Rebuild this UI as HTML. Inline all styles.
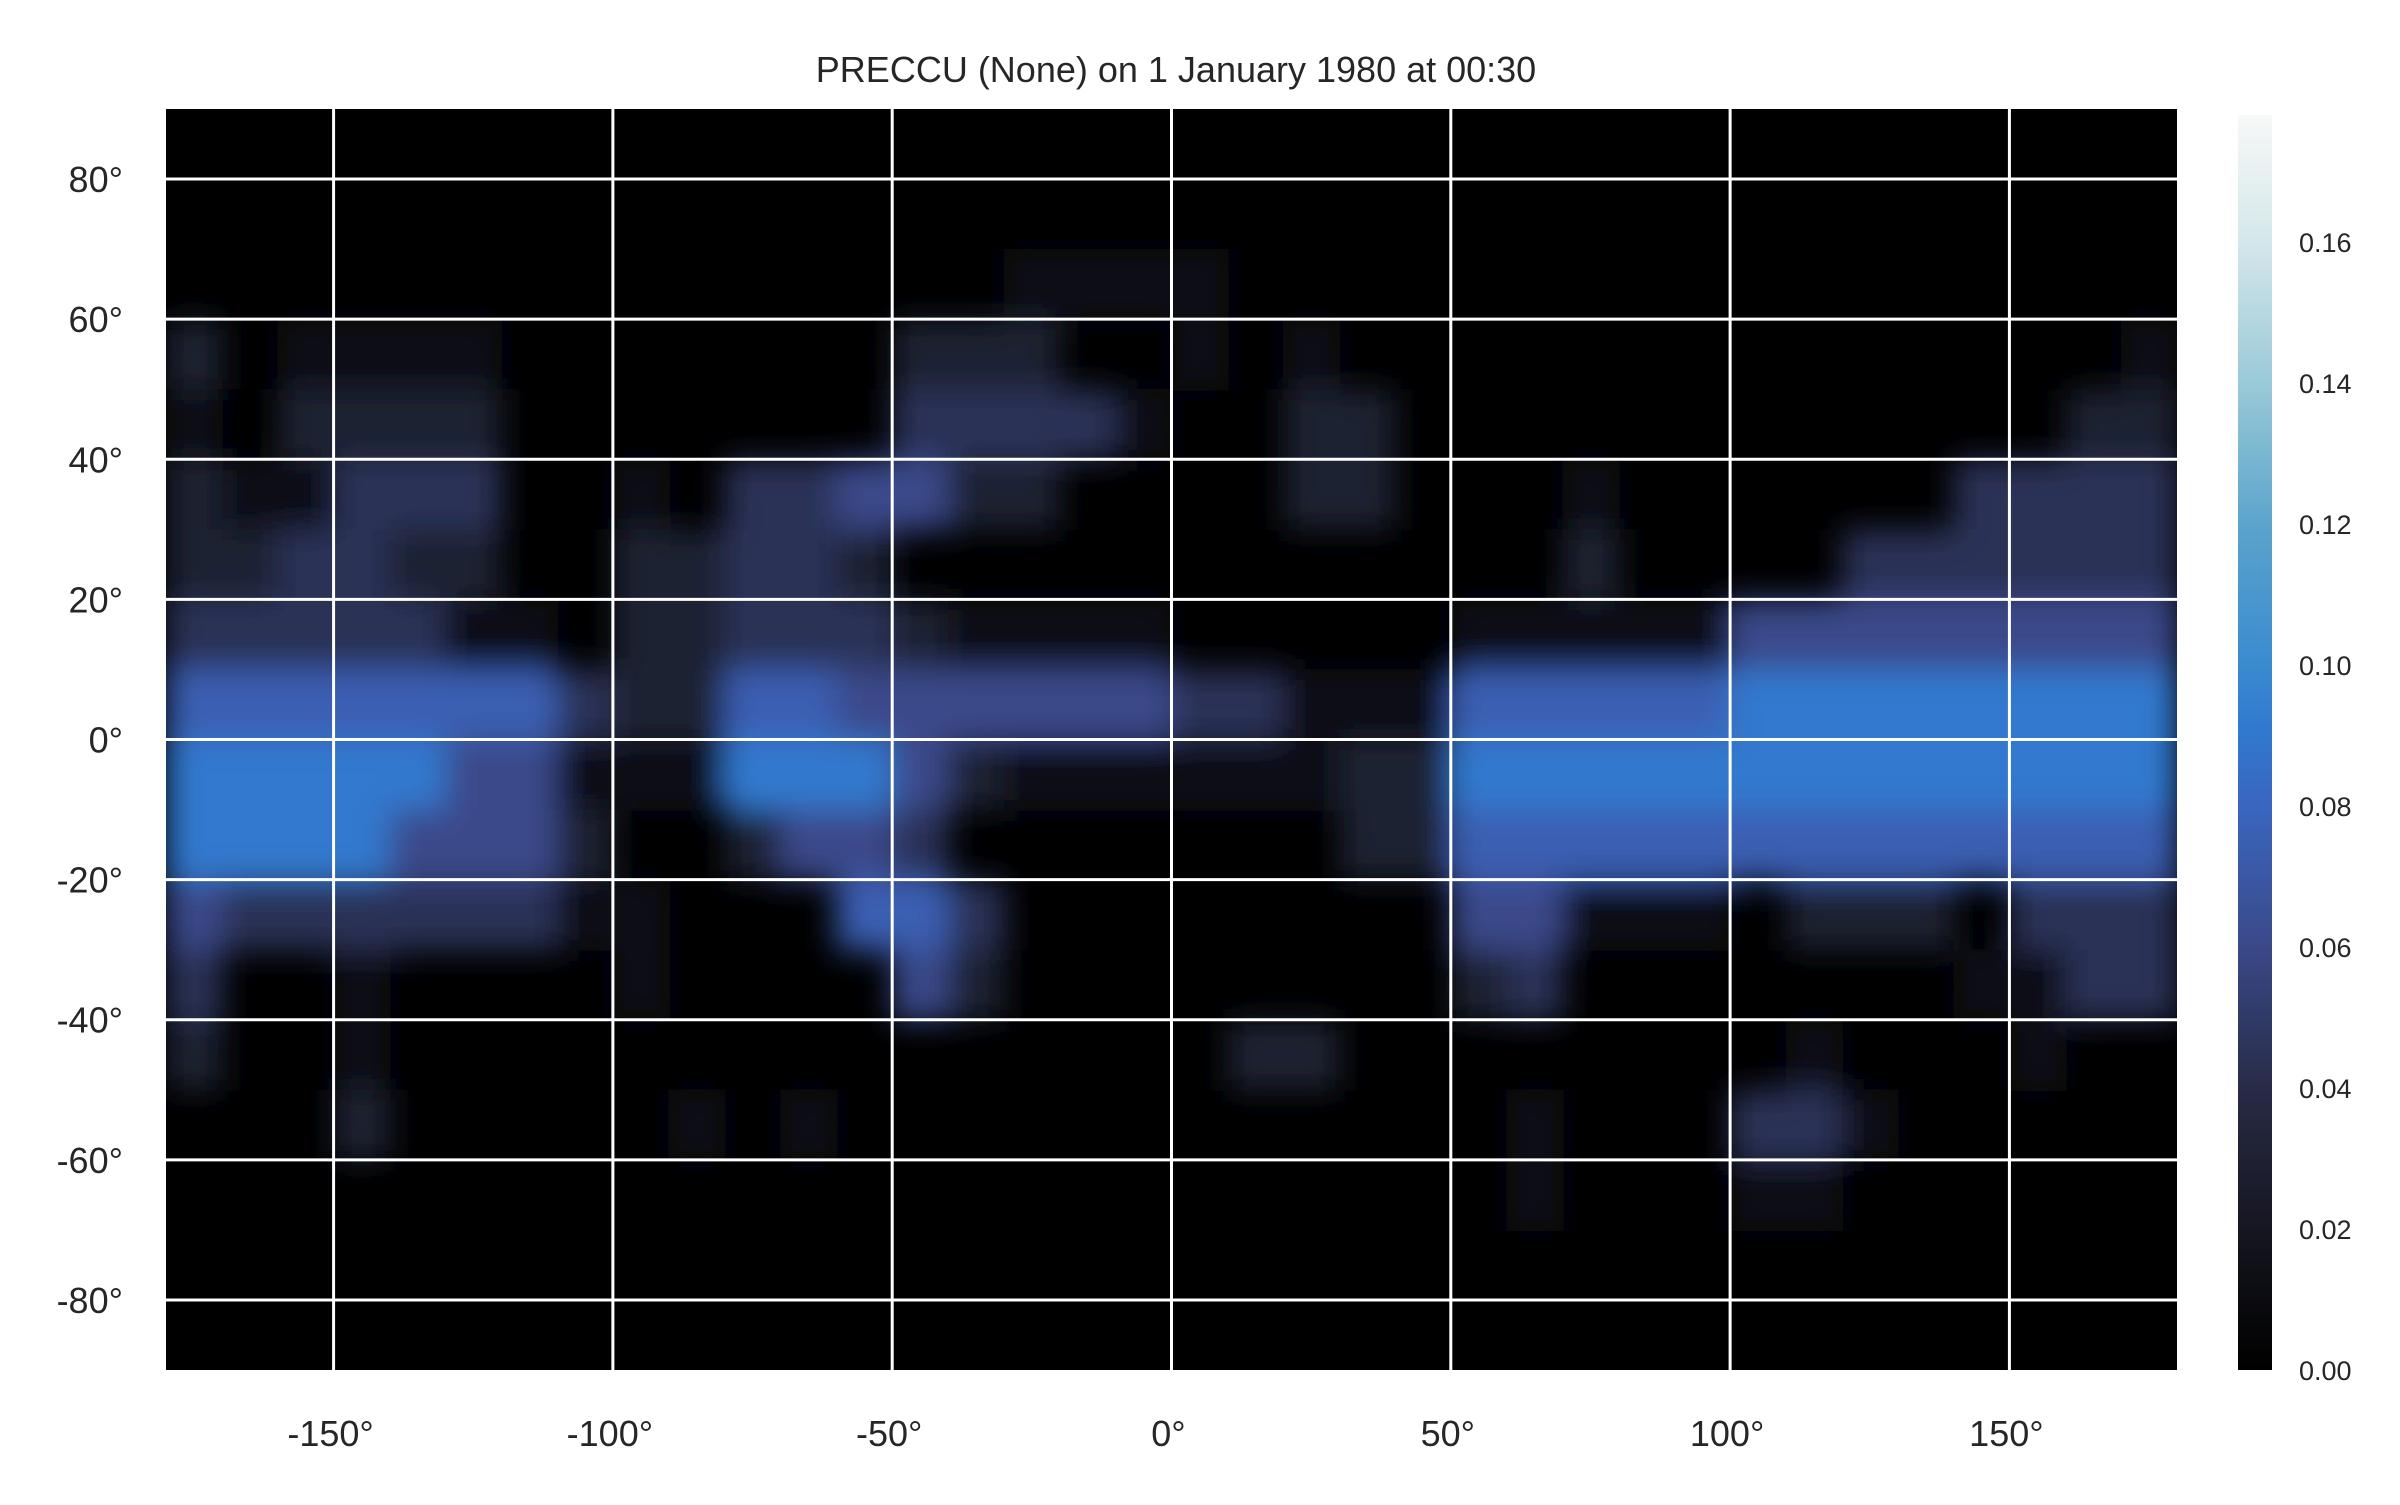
<!DOCTYPE html>
<html><head><meta charset="utf-8"><style>
html,body{margin:0;padding:0;background:#fff;}
svg text{font-family:"Liberation Sans",sans-serif;fill:#262626;}
</style></head><body>
<svg id="chart" width="2400" height="1500" xmlns="http://www.w3.org/2000/svg">
<defs>
<filter id="blur" x="-5%" y="-5%" width="110%" height="110%"><feGaussianBlur stdDeviation="16"/></filter>
<clipPath id="plotclip"><rect x="166" y="109" width="2011" height="1261"/></clipPath>
<linearGradient id="cbgrad" x1="0" y1="1" x2="0" y2="0">
<stop offset="0" stop-color="#000000"/><stop offset="0.11" stop-color="#15161f"/><stop offset="0.22" stop-color="#272a45"/>
<stop offset="0.34" stop-color="#3a4a8a"/><stop offset="0.45" stop-color="#3a66bf"/><stop offset="0.51" stop-color="#3179cf"/>
<stop offset="0.56" stop-color="#3a8acf"/><stop offset="0.67" stop-color="#5aa3cc"/><stop offset="0.79" stop-color="#9ccbd8"/>
<stop offset="0.9" stop-color="#d5e7ea"/><stop offset="1" stop-color="#f8f8f8"/></linearGradient>
</defs>
<text x="1176" y="82" font-size="36" text-anchor="middle">PRECCU (None) on 1 January 1980 at 00:30</text>
<rect x="166" y="109" width="2011" height="1261" fill="#000"/>
<g id="cells" clip-path="url(#plotclip)"><g id="cellsInner" filter="url(#blur)"></g></g>
<g id="grid"></g>
<g id="xticks"></g>
<g id="yticks"></g>
<rect x="2238" y="115" width="34" height="1255" fill="url(#cbgrad)"/>
<g id="cbticks"></g>
</svg>
<script>
// data: 10-degree cells, rows from 90N down to 90S, columns from 180W eastward; digit = value in units of 0.015
const lats = [85,75,65,55,45,35,25,15,5,-5,-15,-25,-35,-45,-55,-65,-75,-85];
const rows = [
"000000000000000000000000000000000000",
"000000000000000000000000000000000000",
"000000000000000111100000000000000000",
"201111000000022200101000000000000001",
"102222000000033331002200000000000022",
"211333001033442200002200010000003333",
"223322002233200000000000020000333333",
"333331102233321111000001111144444444",
"555555532255444444331115555566666666",
"666664411166642111111226666666666666",
"666644420024430000000225555555555555",
"433333311000553000000004411102220333",
"300100001000042000000002300000001133",
"200100000000000000022000000001000100",
"000200000101000000000000100033100000",
"000000000000000000000000100011000000",
"000000000000000000000000000000000000",
"000000000000000000000000000000000000"
];
const valueUnit = 0.015;
const xTicks = [-150,-100,-50,0,50,100,150];
const yTicks = [80,60,40,20,0,-20,-40,-60,-80];
const cbTicks = [0.00,0.02,0.04,0.06,0.08,0.10,0.12,0.14,0.16];
const vmax = 0.178;

const L=166,R=2177,T=109,B=1370;
const xs = lon => L + (lon+180)/360*(R-L);
const ys = lat => T + (90-lat)/180*(B-T);
const cbY = v => 1370 - v/vmax*1255;
const NS="http://www.w3.org/2000/svg";
function mk(tag, attrs, parent){const e=document.createElementNS(NS,tag);for(const k in attrs)e.setAttribute(k,attrs[k]);parent.appendChild(e);return e;}
const stops=[[0,[0,0,0]],[0.02,[21,22,31]],[0.04,[39,42,69]],[0.06,[58,74,138]],[0.08,[58,102,191]],[0.09,[49,121,207]],[0.10,[58,138,207]],[0.12,[90,163,204]],[0.14,[156,203,216]],[0.16,[213,231,234]],[0.178,[248,248,248]]];
function cmap(v){v=Math.max(0,Math.min(vmax,v));for(let i=1;i<stops.length;i++){if(v<=stops[i][0]){const a=stops[i-1],b=stops[i];const t=(v-a[0])/(b[0]-a[0]);const c=a[1].map((x,j)=>Math.round(x+(b[1][j]-x)*t));return `rgb(${c[0]},${c[1]},${c[2]})`;}}return "rgb(248,248,248)";}
const cg=document.getElementById('cellsInner');
rows.forEach((row,ri)=>{const lat=lats[ri];
 for(let ci=0;ci<36;ci++){const d=+(row[ci]||0);if(!d)continue;const v=d*valueUnit;const lon=-175+ci*10;
  const r=mk('rect',{x:xs(lon-5),y:ys(lat+5),width:xs(lon+5)-xs(lon-5)+1,height:ys(lat-5)-ys(lat+5)+1,fill:cmap(v)},cg);
  
  
 }});
const g=document.getElementById('grid');
xTicks.forEach(t=>{const l=mk('line',{x1:xs(t),x2:xs(t),y1:T,y2:B,stroke:'#fff','stroke-width':3},g);
 
 
 const tx=mk('text',{x:xs(t)-3,y:1446,'font-size':36,'text-anchor':'middle'},document.getElementById('xticks'));tx.textContent=t+'°';
 
 });
yTicks.forEach(t=>{const l=mk('line',{x1:L,x2:R,y1:ys(t),y2:ys(t),stroke:'#fff','stroke-width':3},g);
 
 
 const tx=mk('text',{x:123,y:ys(t)+13,'font-size':36,'text-anchor':'end'},document.getElementById('yticks'));tx.textContent=t+'°';
 
 });
cbTicks.forEach(t=>{const tx=mk('text',{x:2299,y:cbY(t)+10,'font-size':27},document.getElementById('cbticks'));tx.textContent=t.toFixed(2);
 
 });
</script>
</body></html>
